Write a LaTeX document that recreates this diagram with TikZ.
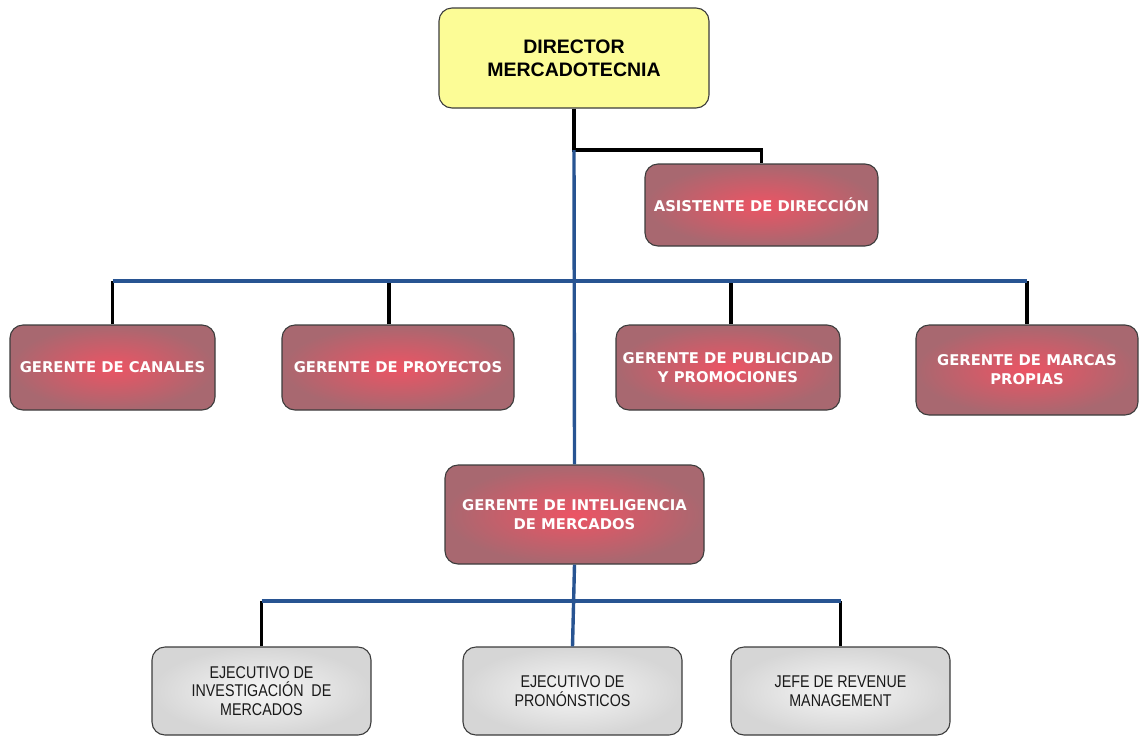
\documentclass[tikz,border=0pt]{standalone}
\usepackage{fontspec}
\setmainfont{Liberation Sans}
\newfontfamily\headfont{Liberation Sans}
\newfontfamily\redfont{DejaVu Sans}
\newfontfamily\grayfont[FakeStretch=0.84]{Liberation Sans}
\definecolor{topfill}{RGB}{252,252,150}
\definecolor{redin}{RGB}{236,84,100}
\definecolor{redout}{RGB}{168,104,112}
\definecolor{grayin}{RGB}{246,246,246}
\definecolor{grayout}{RGB}{214,214,214}
\definecolor{busblue}{RGB}{40,84,146}
\definecolor{edge}{RGB}{60,60,60}
\tikzset{
  box/.style={draw=edge, line width=1.1pt, rounded corners=13pt, align=center, inner sep=2pt},
  topbox/.style={box, fill=topfill, font=\headfont\bfseries\fontsize{19.5}{23}\selectfont, text=black},
  redbox/.style={box, inner color=redin, outer color=redout, text=white,
    font=\redfont\bfseries\fontsize{14.8}{19}\selectfont},
  graybox/.style={box, inner color=grayin, outer color=grayout, text=black!90,
    font=\grayfont\fontsize{17}{18.5}\selectfont},
  stub/.style={line width=3.4pt, black},
  bus/.style={line width=3.4pt, busblue},
}
\begin{document}
\begin{tikzpicture}[x=1pt,y=-1pt]
\useasboundingbox (0,0) rectangle (1139,737);

% boxes
\node[topbox, minimum width=270pt, minimum height=100pt] (dir) at (574,58) {DIRECTOR\\MERCADOTECNIA};
\node[redbox, minimum width=233pt, minimum height=82pt] (asis) at (761.5,205) {ASISTENTE DE DIRECCIÓN};
\node[redbox, minimum width=205pt, minimum height=85pt] (can) at (112.5,367.5) {GERENTE DE CANALES};
\node[redbox, minimum width=232pt, minimum height=85pt] (proy) at (398,367.5) {GERENTE DE PROYECTOS};
\node[redbox, minimum width=224pt, minimum height=85pt] (pub) at (728,367.5) {GERENTE DE PUBLICIDAD\\Y PROMOCIONES};
\node[redbox, minimum width=222pt, minimum height=90pt] (marc) at (1027,370) {GERENTE DE MARCAS\\PROPIAS};
\node[redbox, minimum width=259pt, minimum height=99pt] (intel) at (574.5,514.5) {GERENTE DE INTELIGENCIA\\DE MERCADOS};
\node[graybox, minimum width=219pt, minimum height=88pt] (inv) at (261.5,691) {EJECUTIVO DE\\INVESTIGACIÓN\ \ DE\\MERCADOS};
\node[graybox, minimum width=219pt, minimum height=88pt] (pron) at (572.5,691) {EJECUTIVO DE\\PRONÓNSTICOS};
\node[graybox, minimum width=219pt, minimum height=88pt] (rev) at (840.5,691) {JEFE DE REVENUE\\MANAGEMENT};

% bus levels
\coordinate (j1) at (574,150);
\coordinate (tb) at (0,281);
\coordinate (bb) at (0,601);

% director to assistant
\draw[stub] (dir.south) -- (j1) -| (asis.north);

% manager stubs
\draw[stub] (can.north) -- (can.north |- tb);
\draw[stub] ([xshift=-9pt]proy.north) -- ([xshift=-9pt]proy.north |- tb);
\draw[stub] ([xshift=3pt]pub.north) -- ([xshift=3pt]pub.north |- tb);
\draw[stub] (marc.north) -- (marc.north |- tb);

% executive stubs
\draw[stub] (inv.north) -- (inv.north |- bb);
\draw[stub] (rev.north) -- (rev.north |- bb);

% blue buses
\draw[bus] (can.north |- tb) -- (marc.north |- tb);
\draw[bus] (j1) -- (intel.north);
\draw[bus] (inv.north |- bb) -- (rev.north |- bb);
\draw[bus] (intel.south) -- (pron.north);
\end{tikzpicture}
\end{document}
